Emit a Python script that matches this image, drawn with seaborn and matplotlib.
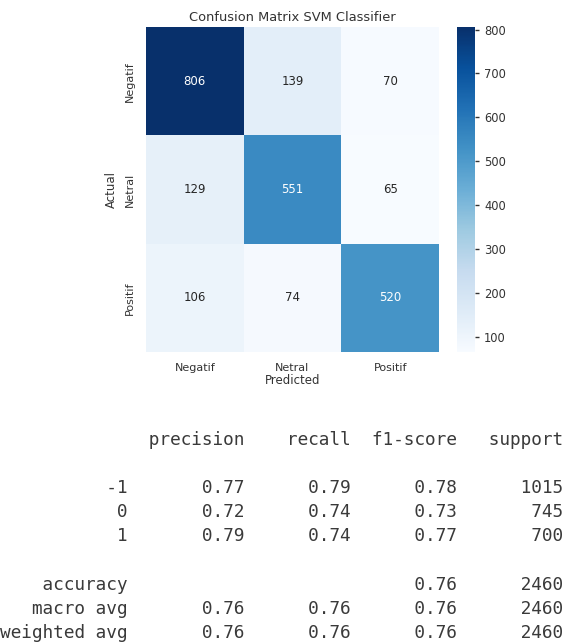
import numpy as np
import pandas as pd
import seaborn as sns
import matplotlib.pyplot as plt

# confusion matrix values (rows = actual, cols = predicted)
labels = ['Negatif', 'Netral', 'Positif']
row_negatif = [806, 139, 70]
row_netral = [129, 551, 65]
row_positif = [106, 74, 520]

# classification report values
report_classes = ['-1', '0', '1']
precision = [0.77, 0.72, 0.79]
recall = [0.79, 0.74, 0.74]
f1_score = [0.78, 0.73, 0.77]
support = [1015, 745, 700]
accuracy = 0.76
accuracy_support = 2460
macro_avg = [0.76, 0.76, 0.76]
weighted_avg = [0.76, 0.76, 0.76]
total_support = 2460

cm = pd.DataFrame([row_negatif, row_netral, row_positif], index=labels, columns=labels)

sns.set_style('white')
plt.rcParams['text.color'] = '#333333'
plt.rcParams['axes.labelcolor'] = '#333333'
plt.rcParams['xtick.color'] = '#333333'
plt.rcParams['ytick.color'] = '#333333'

fig = plt.figure(figsize=(5.63, 6.43), dpi=100)
W, H = 563, 643
ax = fig.add_axes([146 / W, 1 - 352 / H, (439 - 146) / W, (352 - 27) / H])
cax = fig.add_axes([457 / W, 1 - 352 / H, (475 - 457) / W, (352 - 27) / H])

sns.heatmap(cm, annot=True, fmt='d', cmap='Blues', ax=ax, cbar_ax=cax,
            annot_kws={'fontsize': 8.5})
ax.set_title('Confusion Matrix SVM Classifier', fontsize=9.4, color='#333333', pad=4)
ax.set_xlabel('Predicted', fontsize=8.5, labelpad=1)
ax.set_ylabel('Actual', fontsize=8.5, labelpad=5)
ax.tick_params(length=0, labelsize=8, pad=8)
ax.set_yticklabels(labels, rotation=90, va='center')
cax.tick_params(labelsize=8.3, length=3, width=1, color='#333333')

# classification report as text (sklearn layout)
lines = []
lines.append(' ' * 12 + ' ' + ''.join(' {:>9}'.format(h) for h in ['precision', 'recall', 'f1-score', 'support']))
lines.append('')
for c, p, r, f, s in zip(report_classes, precision, recall, f1_score, support):
    lines.append('{:>12} '.format(c) + ' {:>9.2f} {:>9.2f} {:>9.2f} {:>9}'.format(p, r, f, s))
lines.append('')
lines.append('{:>12} '.format('accuracy') + ' {:>9} {:>9} {:>9.2f} {:>9}'.format('', '', accuracy, accuracy_support))
lines.append('{:>12} '.format('macro avg') + ' {:>9.2f} {:>9.2f} {:>9.2f} {:>9}'.format(*macro_avg, total_support))
lines.append('{:>12} '.format('weighted avg') + ' {:>9.2f} {:>9.2f} {:>9.2f} {:>9}'.format(*weighted_avg, total_support))

y0 = 440
step = 24.1
for i, line in enumerate(lines):
    fig.text(0 / W, 1 - (y0 + i * step) / H, line, family='DejaVu Sans Mono',
             fontsize=12.78, color='#3a3a3a', va='center', ha='left')

fig.savefig('out.png', dpi=100)
